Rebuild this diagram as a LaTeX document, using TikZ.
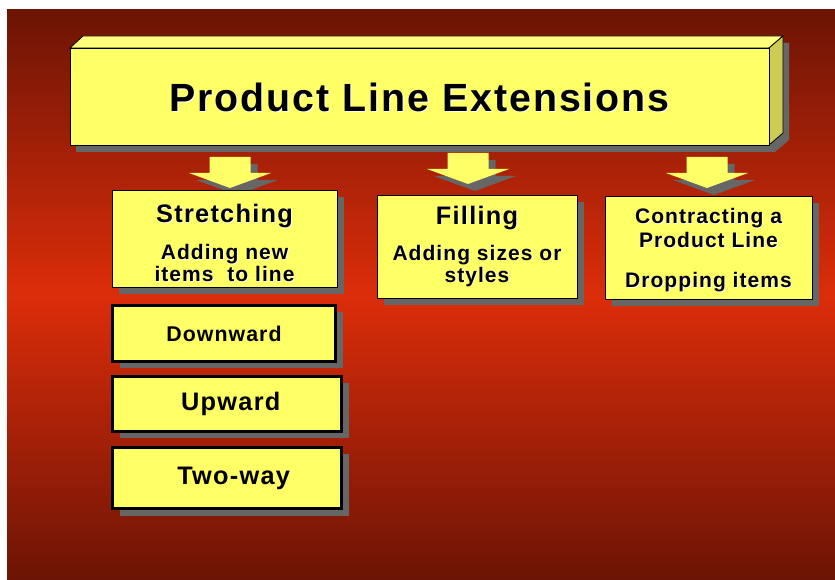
\documentclass[tikz,border=0pt]{standalone}
\usepackage{fontspec}
\setmainfont{Liberation Sans}[LetterSpace=5]
\usetikzlibrary{shadows}

\definecolor{slideDark}{RGB}{108,20,5}
\definecolor{slideMid}{RGB}{220,45,10}
\definecolor{boxYellow}{RGB}{255,255,102}
\definecolor{boxTop}{RGB}{255,255,125}
\definecolor{boxSide}{RGB}{205,205,85}
\definecolor{shadowGrey}{RGB}{102,102,102}

\newcommand{\embossed}[1]{\leavevmode\rlap{\kern0.7pt\raisebox{-0.7pt}{\color{white}#1}}#1}
\newcommand{\hdrfont}{\fontsize{19}{22}\selectfont}
\newcommand{\tabfont}{\fontsize{19}{22}\selectfont}

\tikzset{
  boxshadow/.style={drop shadow={shadow xshift=5.25pt, shadow yshift=-5.25pt, fill=shadowGrey, opacity=1}},
  card/.style={draw=black, line width=0.6pt, fill=boxYellow, inner sep=0pt, align=center,
    font=\bfseries\fontsize{15.75}{16.5}\selectfont},
  tabcard/.style={card, line width=2.2pt, boxshadow},
  % pics do not take the yscale=-1, so y runs upward in here
  bigarrow/.pic={\fill[boxYellow, boxshadow] (-20.5,0) -- (20.5,0) -- (20.5,-16) -- (41,-16) -- (0,-31) -- (-41,-16) -- (-20.5,-16) -- cycle;}
}

\begin{document}
\begin{tikzpicture}[x=0.75pt,y=0.75pt,yscale=-1,xscale=1]
\useasboundingbox (0,0) rectangle (835,580);

% slide background
\shade[top color=slideDark, bottom color=slideDark, middle color=slideMid] (7,10) rectangle (835,580);

% title block
\fill[shadowGrey] (76,55) -- (89,43) -- (789,43) -- (789,140) -- (775,152) -- (76,152) -- cycle;
\filldraw[fill=boxTop, line width=0.6pt] (70,48) -- (83,36) -- (783,36) -- (769,48) -- cycle;
\filldraw[fill=boxSide, line width=0.6pt] (769,48) -- (783,36) -- (783,133) -- (769,145) -- cycle;
\node[card, minimum width=524.25pt, minimum height=72.75pt, font=\bfseries\fontsize{29.5}{34}\selectfont] (title) at (419.5,96.5) {\rule{0pt}{23.6pt}\embossed{Product Line Extensions}};

% arrows
\pic at (230,157) {bigarrow};
\pic at (468,153) {bigarrow};
\pic at (707,157) {bigarrow};

% kinds of extension
\node[card, boxshadow, minimum width=168.75pt, minimum height=72.75pt] (stretch) at (224.5,238.5)
  {{\hdrfont\rule{0pt}{21pt}\embossed{Stretching}}\\[11.25pt]\embossed{Adding new}\\\embossed{items~ to line}};
\node[card, boxshadow, minimum width=150pt, minimum height=77.25pt] (fill) at (477,246.5)
  {{\hdrfont\embossed{Filling}}\\[10.5pt]\embossed{Adding sizes or}\\\embossed{styles}};
\node[card, boxshadow, minimum width=155.25pt, minimum height=77.25pt] (contract) at (708.5,247.5)
  {\rule{0pt}{16pt}\embossed{Contracting a}\\[1.5pt]\embossed{Product Line}\\[13.5pt]\embossed{Dropping items}};

% stretching directions
\node[tabcard, minimum width=167.25pt, minimum height=42pt, font=\bfseries\fontsize{16}{19}\selectfont] (down) at (224,333.5) {Downward};
\node[tabcard, minimum width=171.75pt, minimum height=41.25pt, font=\bfseries\tabfont] (up) at (227,404) {\hspace*{5.6pt}Upward};
\node[tabcard, minimum width=171.75pt, minimum height=45.75pt, font=\bfseries\tabfont] (two) at (227,478) {\hspace*{10pt}Two-way};

\end{tikzpicture}
\end{document}
